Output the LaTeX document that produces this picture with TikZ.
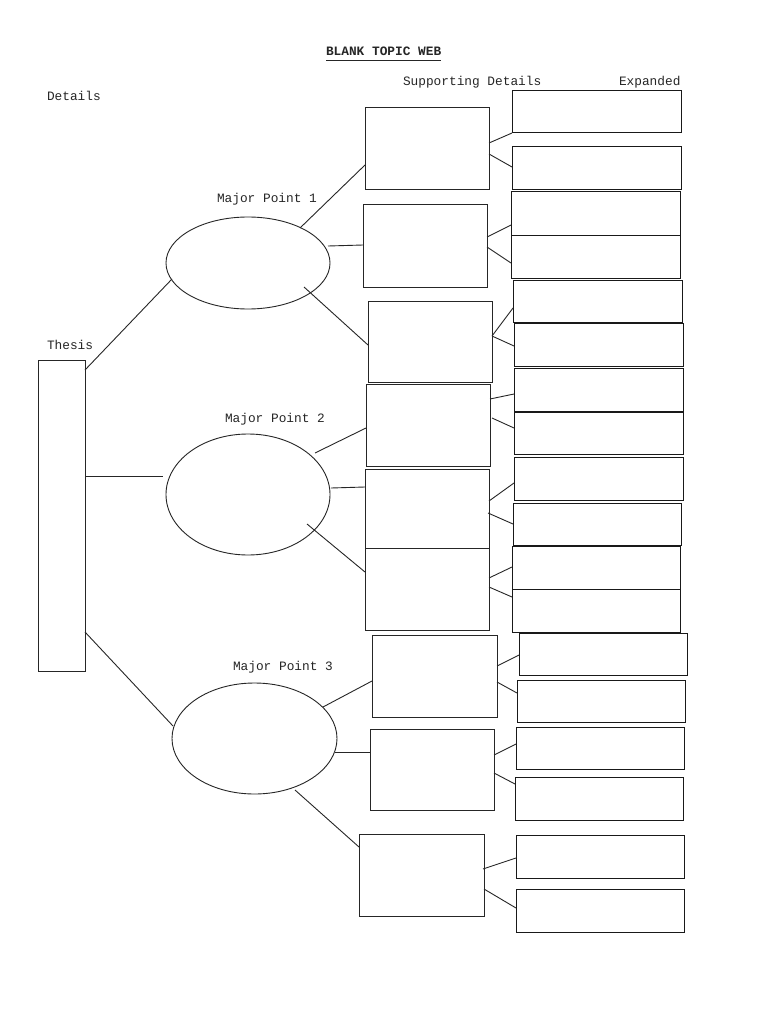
\documentclass[tikz,border=0pt]{standalone}
\usepackage{fontspec}
\setmainfont{Liberation Mono}
\usetikzlibrary{shapes.geometric,calc}
\begin{document}
\begin{tikzpicture}[x=1pt,y=-1pt,
  every node/.style={inner sep=0pt,outer sep=0pt},
  lbl/.style={anchor=base west,font=\fontsize{12.8}{15}\selectfont,text=black!85},
  sbox/.style={draw=black!85,line width=1pt,minimum width=124pt,minimum height=82pt},
  ebox/.style={draw=black!90,line width=1pt,minimum width=169pt,minimum height=43pt},
  oval/.style={draw=black!85,line width=0.9pt,ellipse},
  conn/.style={draw=black!85,line width=0.9pt}]
\useasboundingbox (0,0) rectangle (768,1024);
\fill[white] (0,0) rectangle (768,1024);

% labels
\node[lbl,font=\fontsize{12.8}{15}\selectfont\bfseries] (title) at (326,56) {BLANK TOPIC WEB};
\draw[line width=1.4pt,black!85] ($(title.base west)+(0,4.5)$) -- ($(title.base east)+(0,4.5)$);
\node[lbl] (supp) at (403,86) {Supporting Details};
\node[lbl] (expd) at (619,86) {Expanded};
\node[lbl] (det) at (47,101) {Details};
\node[lbl] (thl) at (47,349) {Thesis};
\node[lbl] (mp1) at (217,203) {Major Point 1};
\node[lbl] (mp2) at (225,422) {Major Point 2};
\node[lbl] (mp3) at (233,670) {Major Point 3};

% thesis
\node[draw=black!85,line width=1pt,minimum width=47pt,minimum height=311pt] (th) at (61.5,515.5) {};

% ellipses
\node[oval,minimum width=164pt,minimum height=92pt] (el1) at (248,263) {};
\node[oval,minimum width=164pt,minimum height=121pt] (el2) at (248,494.5) {};
\node[oval,minimum width=165pt,minimum height=111pt] (el3) at (254.5,738.5) {};

% supporting boxes
\node[sbox] (s1) at (427,149) {};
\node[sbox] (s2) at (425,246) {};
\node[sbox,minimum height=81pt] (s3) at (430,341.5) {};
\node[sbox] (s4) at (428,425) {};
\node[sbox,minimum height=79pt] (s5) at (427,508.5) {};
\node[sbox] (s6) at (427,589) {};
\node[sbox,minimum width=125pt] (s7) at (434.5,676) {};
\node[sbox,minimum height=81pt] (s8) at (432,769.5) {};
\node[sbox,minimum width=125pt] (s9) at (421.5,875) {};

% expanded boxes
\node[ebox,minimum height=42pt] (e1) at (596.5,112) {};
\node[ebox] (e2) at (596.5,168.5) {};
\node[ebox] (e3) at (595.5,213.5) {};
\node[ebox] (e4) at (595.5,256.5) {};
\node[ebox,minimum height=42pt] (e5) at (597.5,301) {};
\node[ebox] (e6) at (598.5,344.5) {};
\node[ebox] (e7) at (598.5,389.5) {};
\node[ebox,minimum height=42pt] (e8) at (598.5,433) {};
\node[ebox] (e9) at (598.5,478.5) {};
\node[ebox,minimum width=168pt,minimum height=42pt] (e10) at (597,524) {};
\node[ebox,minimum width=168pt] (e11) at (596,567.5) {};
\node[ebox,minimum width=168pt] (e12) at (596,610.5) {};
\node[ebox,minimum width=168pt,minimum height=42pt] (e13) at (603,654) {};
\node[ebox,minimum width=168pt,minimum height=42pt] (e14) at (601,701) {};
\node[ebox,minimum width=168pt,minimum height=42pt] (e15) at (600,748) {};
\node[ebox,minimum width=168pt] (e16) at (599,798.5) {};
\node[ebox,minimum width=168pt] (e17) at (600,856.5) {};
\node[ebox,minimum width=168pt] (e18) at (600,910.5) {};

% thesis to major points
\draw[conn] ($(th.east)+(0,-145.5)$) -- ($(el1.center)+(-76,16)$);
\draw[conn] ($(th.east)+(0,-39.5)$) -- ($(el2.center)+(-85,-18.5)$);
\draw[conn] ($(th.east)+(0,116.5)$) -- ($(el3.center)+(-81.5,-12.5)$);

% major point 1
\draw[conn] ($(el1.center)+(52,-35)$) -- ($(s1.west)+(0,16)$);
\draw[conn] ($(el1.center)+(80,-17)$) -- ($(s2.west)+(0,-1)$);
\draw[conn] ($(el1.center)+(56,24)$) -- ($(s3.west)+(0,3.5)$);
\draw[conn] ($(s1.east)+(0,-6)$) -- ($(e1.west)+(0,21)$);
\draw[conn] ($(s1.east)+(0,5)$) -- ($(e2.west)+(0,-1.5)$);
\draw[conn] ($(s2.east)+(0,-9)$) -- ($(e3.west)+(0,11.5)$);
\draw[conn] ($(s2.east)+(0,1)$) -- ($(e4.west)+(0,6.5)$);
\draw[conn] ($(s3.east)+(0,-5.5)$) -- ($(e5.west)+(0,7)$);
\draw[conn] ($(s3.east)+(0,-5.5)$) -- ($(e6.west)+(0,1.5)$);

% major point 2
\draw[conn] ($(el2.center)+(67,-41.5)$) -- ($(s4.west)+(0,3)$);
\draw[conn] ($(el2.center)+(83,-6.5)$) -- ($(s5.west)+(0,-21.5)$);
\draw[conn] ($(el2.center)+(59,29.5)$) -- ($(s6.west)+(0,-17)$);
\draw[conn] ($(s4.east)+(0,-26)$) -- ($(e7.west)+(0,4.5)$);
\draw[conn] ($(s4.east)+(2,-7)$) -- ($(e8.west)+(0,-5)$);
\draw[conn] ($(s5.east)+(0,-7.5)$) -- ($(e9.west)+(0,4.5)$);
\draw[conn] ($(s5.east)+(-1,4.5)$) -- ($(e10.west)+(0,0)$);
\draw[conn] ($(s6.east)+(0,-11)$) -- ($(e11.west)+(0,-0.5)$);
\draw[conn] ($(s6.east)+(0,-2)$) -- ($(e12.west)+(0,-13.5)$);

% major point 3
\draw[conn] ($(el3.center)+(68.5,-31.5)$) -- ($(s7.west)+(0,5)$);
\draw[conn] ($(el3.center)+(80.5,13.5)$) -- ($(s8.west)+(0,-17.5)$);
\draw[conn] ($(el3.center)+(40.5,51.5)$) -- ($(s9.west)+(0,-28)$);
\draw[conn] ($(s7.east)+(0,-10)$) -- ($(e13.west)+(0,1)$);
\draw[conn] ($(s7.east)+(0,6)$) -- ($(e14.west)+(0,-8)$);
\draw[conn] ($(s8.east)+(0,-14.5)$) -- ($(e15.west)+(0,-4)$);
\draw[conn] ($(s8.east)+(0,3.5)$) -- ($(e16.west)+(0,-14.5)$);
\draw[conn] ($(s9.east)+(-1,-6)$) -- ($(e17.west)+(0,1.5)$);
\draw[conn] ($(s9.east)+(0,14)$) -- ($(e18.west)+(0,-2.5)$);
\end{tikzpicture}
\end{document}
